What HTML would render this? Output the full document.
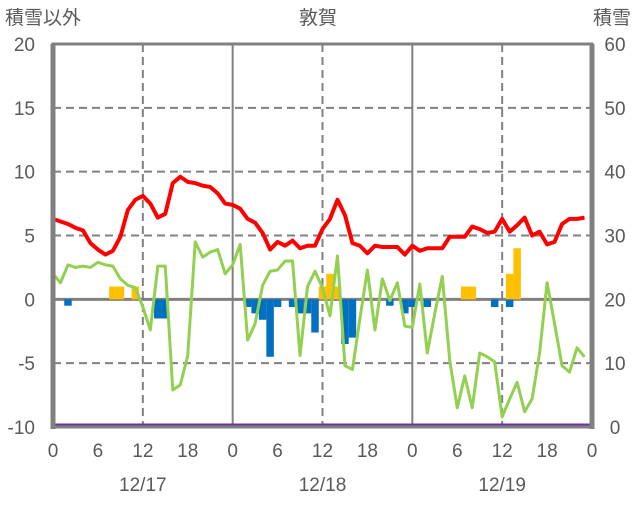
<!DOCTYPE html>
<html><head><meta charset="utf-8">
<style>
body{margin:0;background:#fff;}
svg text{font-family:"Liberation Sans","Noto Sans CJK JP",sans-serif;fill:#595959;}
</style></head>
<body>
<svg id="chart" width="636" height="501" viewBox="0 0 636 501">
<text x="5" y="24" font-size="19">積雪以外</text>
<text x="318" y="24" font-size="19" text-anchor="middle">敦賀</text>
<text x="631" y="24" font-size="19" text-anchor="end">積雪</text>
<g id="grid"></g>
<g id="bars"></g>
<g id="lines"></g>
<g id="frame"></g>
<g id="ticks"></g>
</svg>
<script>
const hours = 72;
const temperature = [6.3,6.1,5.9,5.6,5.4,4.4,3.9,3.5,3.8,4.9,7.0,7.8,8.1,7.5,6.4,6.7,9.1,9.6,9.2,9.1,8.9,8.8,8.3,7.5,7.4,7.1,6.3,6.0,5.2,3.9,4.5,4.2,4.6,4.0,4.2,4.2,5.5,6.3,7.8,6.6,4.4,4.2,3.6,4.2,4.1,4.1,4.1,3.5,4.2,3.8,4.0,4.0,4.0,4.9,4.9,4.9,5.7,5.5,5.2,5.3,6.3,5.3,5.8,6.4,5.0,5.3,4.3,4.5,5.9,6.3,6.3,6.4];
const windIndex = [2.0,1.3,2.7,2.5,2.6,2.5,2.9,2.7,2.6,1.6,1.1,0.9,-0.6,-2.4,2.6,2.6,-7.1,-6.7,-4.4,4.5,3.3,3.7,3.9,2.0,2.7,4.3,-3.2,-1.9,1.1,2.2,2.3,3.0,3.0,-4.4,1.0,2.2,0.9,-1.3,3.4,-5.2,-5.5,-1.5,2.3,-2.4,1.6,-0.1,1.3,-2.1,-2.2,1.2,-4.2,-1.1,1.8,-4.8,-8.5,-6.0,-8.5,-4.2,-4.5,-4.9,-9.2,-7.8,-6.5,-8.8,-7.8,-4.2,1.3,-1.9,-5.2,-5.7,-3.8,-4.5];
const precipHours = [2,14,15,26,27,28,29,30,32,33,34,35,39,40,45,47,48,50,59,61];
const precipValues = [-0.5,-1.5,-1.5,-0.6,-1.1,-1.6,-4.5,-0.6,-0.6,-1.1,-1.1,-2.6,-3.5,-3.0,-0.5,-1.1,-0.6,-0.6,-0.6,-0.6];
const snowfallHours = [8,9,11,36,37,38,55,56,61,62];
const snowfallValues = [2,2,2,2,4,2,2,2,4,8];
const snowDepth = new Array(72).fill(0);
const leftTicks = [20,15,10,5,0,-5,-10];
const rightTicks = [60,50,40,30,20,10,0];
const xTickLabels = ["0","6","12","18","0","6","12","18","0","6","12","18","0"];
const dateLabels = ["12/17","12/18","12/19"];

const X0=53, X1=592, Y0=44, Y1=427;
const NS="http://www.w3.org/2000/svg";
const xs = h => X0 + h*(X1-X0)/72;
const yL = v => Y1 - (v+10)*(Y1-Y0)/30;
const yR = v => Y1 - v*(Y1-Y0)/60;
function mk(tag, attrs, parent){const e=document.createElementNS(NS,tag);for(const k in attrs)e.setAttribute(k,attrs[k]);document.getElementById(parent).appendChild(e);return e;}

// horizontal dashed grid
[15,10,5,-5].forEach(v=>{
  const l=mk('line',{x1:X0,x2:X1,y1:yL(v),y2:yL(v),stroke:'#808080','stroke-width':2,'stroke-dasharray':'8,5'},'grid');
  
  
});
[12,36,60].forEach(h=>{
  const l=mk('line',{x1:xs(h),x2:xs(h),y1:Y0,y2:Y1,stroke:'#808080','stroke-width':2,'stroke-dasharray':'8,5'},'grid');
  
  
});
[24,48].forEach(h=>{
  const l=mk('line',{x1:xs(h),x2:xs(h),y1:Y0,y2:Y1,stroke:'#808080','stroke-width':2},'grid');
  
  
});
const bw=(X1-X0)/72;
precipHours.forEach((h,i)=>{
  const v=precipValues[i];
  const r=mk('rect',{x:xs(h)-bw/2,y:yL(0),width:bw,height:yL(v)-yL(0),fill:'#0070c0'},'bars');
  
  
});
snowfallHours.forEach((h,i)=>{
  const v=snowfallValues[i];
  const r=mk('rect',{x:xs(h)-bw/2,y:yR(20+v),width:bw,height:yR(20)-yR(20+v),fill:'#ffc000'},'bars');
  
  
});
// zero line
const z=mk('line',{x1:X0,x2:X1,y1:yL(0),y2:yL(0),stroke:'#808080','stroke-width':3},'grid');



const g=mk('polyline',{points:windIndex.map((v,i)=>xs(i)+','+yL(v)).join(' '),fill:'none',stroke:'#92d050','stroke-width':3,'stroke-linejoin':'round'},'lines');


const t=mk('polyline',{points:temperature.map((v,i)=>xs(i)+','+yL(v)).join(' '),fill:'none',stroke:'#ff0000','stroke-width':4,'stroke-linejoin':'round'},'lines');


const s=mk('polyline',{points:snowDepth.map((v,i)=>xs(i)+','+(yR(v)-2)).join(' ')+' '+X1+','+(yR(0)-2),fill:'none',stroke:'#7030a0','stroke-width':3},'lines');



// frame
const f=mk('path',{d:`M${X0},${Y0} H${X1} V${Y1} H${X0} Z`,fill:'none',stroke:'#808080','stroke-width':3},'frame');


const fl=mk('line',{x1:X0,x2:X0,y1:Y0,y2:Y1+2,stroke:'#808080','stroke-width':5},'frame');


const fr=mk('line',{x1:X1,x2:X1,y1:Y0,y2:Y1+2,stroke:'#808080','stroke-width':5},'frame');



leftTicks.forEach(v=>{
  const e=mk('text',{x:35,y:yL(v)+7,'font-size':19,'text-anchor':'end'},'ticks');e.textContent=v;
  
  
});
rightTicks.forEach(v=>{
  const e=mk('text',{x:615,y:yR(v)+7,'font-size':19,'text-anchor':'middle'},'ticks');e.textContent=v;
  
  
});
xTickLabels.forEach((l,i)=>{
  const e=mk('text',{x:xs(i*6),y:457,'font-size':19,'text-anchor':'middle'},'ticks');e.textContent=l;
  
  
});
dateLabels.forEach((l,i)=>{
  const e=mk('text',{x:xs(12+24*i),y:491,'font-size':19,'text-anchor':'middle'},'ticks');e.textContent=l;
  
  
});
</script>
</body></html>
